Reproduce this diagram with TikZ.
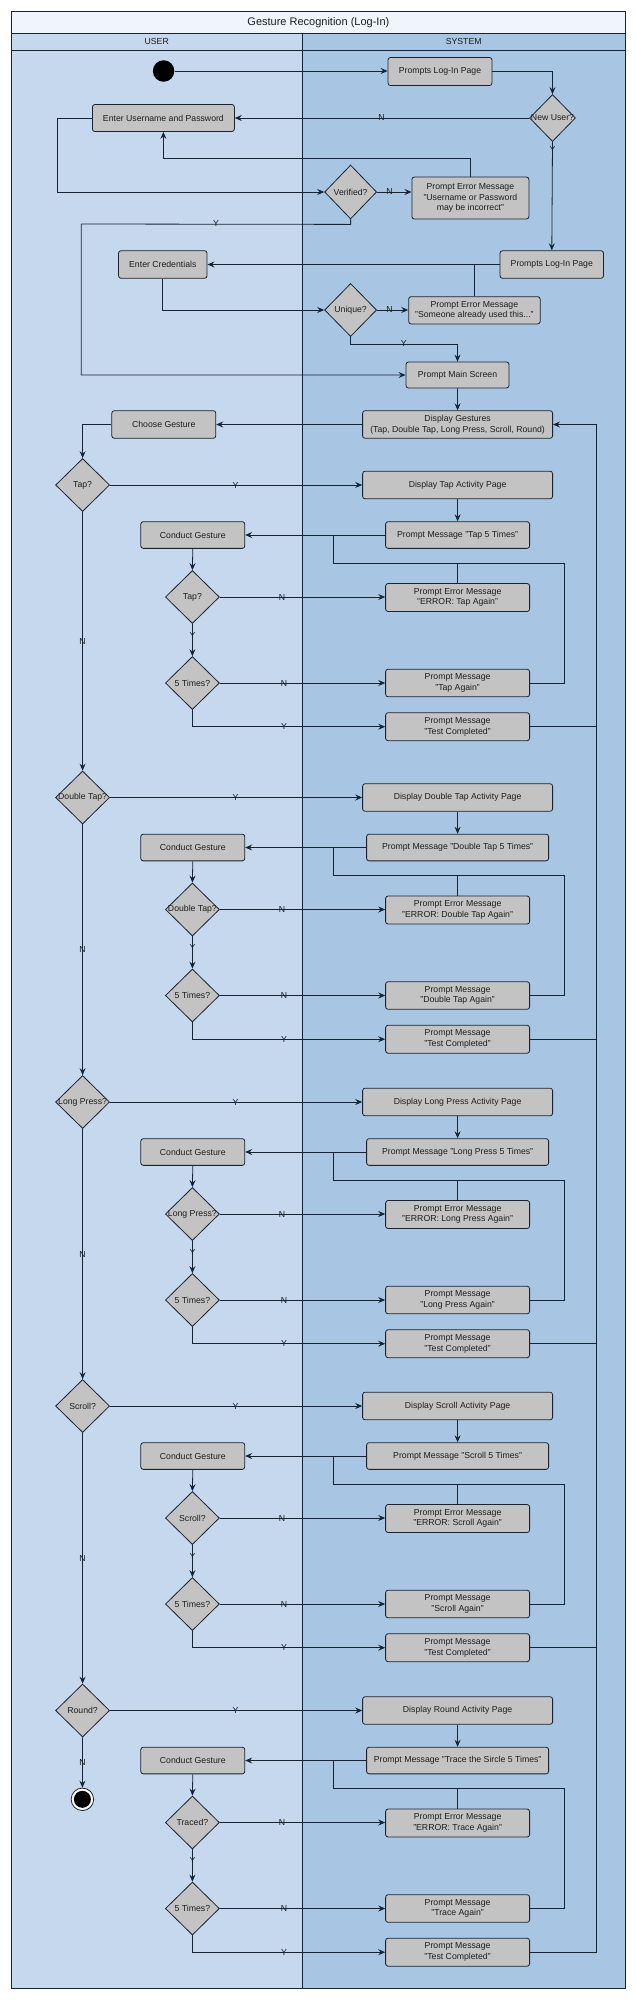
\documentclass[tikz,border=0pt]{standalone}
\usepackage{fontspec}
\setmainfont{Liberation Sans}
\usetikzlibrary{shapes.geometric,arrows.meta,calc}
\definecolor{userlane}{RGB}{197,216,238}
\definecolor{syslane}{RGB}{168,198,227}
\definecolor{titlebg}{RGB}{240,245,252}
\definecolor{boxfill}{RGB}{195,195,195}
\definecolor{linecol}{RGB}{25,35,50}
\definecolor{txtcol}{RGB}{30,30,30}
\newcommand{\fs}{\fontsize{8.7}{10.7}\selectfont}
\tikzset{
 actbox/.style={draw=linecol, fill=boxfill, rounded corners=2.5pt, line width=0.8pt, align=center, inner sep=1pt, font=\fs, text=txtcol},
 dia/.style={draw=linecol, fill=boxfill, diamond, line width=0.8pt, inner sep=0pt, minimum width=54pt, minimum height=53pt, font=\fs, text=txtcol},
 conn/.style={draw=linecol, line width=0.8pt},
 arr/.style={conn, -{Stealth[length=7pt,width=6pt,inset=2.5pt]}},
 lbl/.style={font=\fs, text=txtcol, inner sep=0pt},
}
% #1 id, #2 y0, #3 question, #4 display text, #5 prompt text, #6 prompt width, #7 second question, #8 error text, #9 again text
\newcommand{\gestureblock}[9]{%
 \node[dia] (q#1) at (82.6,#2) {\makebox[0pt]{#3}};
 \node[actbox, minimum width=190pt, minimum height=27.6pt] (disp#1) at (457.6,#2) {#4};
 \node[actbox, minimum width=#6pt, minimum height=26.7pt] (pm#1) at ({457.6},{#2+50}) {#5};
 \node[actbox, minimum width=104pt, minimum height=26.7pt] (cg#1) at ({192.8},{#2+50}) {Conduct Gesture};
 \node[dia] (dd#1) at ({192.4},{#2+112}) {\makebox[0pt]{#7}};
 \node[actbox, minimum width=144pt, minimum height=28pt] (err#1) at ({457.6},{#2+112.5}) {Prompt Error Message\\#8};
 \node[dia] (ft#1) at ({192.4},{#2+198}) {\makebox[0pt]{5 Times?}};
 \node[actbox, minimum width=144pt, minimum height=27.6pt] (ag#1) at ({457.6},{#2+198}) {Prompt Message\\#9};
 \node[actbox, minimum width=144pt, minimum height=28pt] (tc#1) at ({457.6},{#2+241.7}) {Prompt Message\\"Test Completed"};
 \coordinate (lr#1) at ({564.1},{#2+78.3});
 \coordinate (ll#1) at ({333.6},{#2+78.3});
 \coordinate (lj#1) at ({333.6},{#2+50});
 \draw[arr] (q#1.east) -- (disp#1.west);
 \node[lbl] (qy#1) at (235.4,#2) {Y};
 \draw[arr] (disp#1.south) -- (pm#1.north);
 \draw[arr] (pm#1.west) -- (cg#1.east);
 \draw[arr] (cg#1.south) -- (dd#1.north);
 \draw[arr] (dd#1.east) -- (dd#1.east -| err#1.west);
 \node[lbl] (dn#1) at ({282},{#2+112}) {N};
 \draw[arr] (dd#1.south) -- (ft#1.north);
 \node[lbl] (dy#1) at ({192.4},{#2+150}) {Y};
 \draw[arr] (ft#1.east) -- (ft#1.east -| ag#1.west);
 \node[lbl] (fn#1) at ({284},{#2+198}) {N};
 \draw[arr] (ft#1.south) |- (tc#1.west);
 \node[lbl] (fy#1) at ({284},{#2+241.7}) {Y};
 \draw[conn] (err#1.north) -- (err#1.north |- ll#1);
 \draw[conn] (ag#1.east) -| (lr#1) -- (ll#1) -- (lj#1);
}
\begin{document}
\begin{tikzpicture}[x=1pt,y=-1pt]
\useasboundingbox (0,0) rectangle (636,2000);
\fill[white] (0,0) rectangle (636,2000);
% lanes
\fill[userlane] (11.4,33.3) rectangle (302,1988);
\fill[syslane] (302,33.3) rectangle (625.4,1988);
\fill[titlebg] (11.4,11.7) rectangle (625.4,33.3);
\draw[conn] (11.4,11.7) rectangle (625.4,1988);
\draw[conn] (11.4,33.3) -- (625.4,33.3);
\draw[conn] (11.4,50.7) -- (625.4,50.7);
\draw[conn] (302,33.3) -- (302,1988);
\node[font=\fontsize{11}{13}\selectfont, text=txtcol] (title) at (318.4,22.5) {Gesture Recognition (Log-In)};
\node[font=\fontsize{8.7}{10}\selectfont, text=txtcol] (huser) at (156.7,42) {USER};
\node[font=\fontsize{8.7}{10}\selectfont, text=txtcol] (hsys) at (463.7,42) {SYSTEM};

% log-in part
\node[circle, fill=black, minimum size=21.5pt, inner sep=0pt] (start) at (163.6,71) {};
\node[actbox, minimum width=104pt, minimum height=28pt] (pl1) at (440,71.5) {Prompts Log-In Page};
\node[dia, minimum width=46pt, minimum height=47pt] (nu) at (552.5,118) {\makebox[0pt]{New User?}};
\node[actbox, minimum width=142pt, minimum height=27pt] (eup) at (163.4,118) {Enter Username and Password};
\node[dia, minimum width=52pt, minimum height=54pt] (ver) at (350.6,192) {\makebox[0pt]{Verified?}};
\node[actbox, minimum width=117pt, minimum height=42pt] (err0) at (470.4,198) {Prompt Error Message\\"Username or Password\\may be incorrect"};
\node[actbox, minimum width=103.5pt, minimum height=27.6pt] (pl2) at (551.8,264.5) {Prompts Log-In Page};
\node[actbox, minimum width=88.5pt, minimum height=27.6pt] (ec) at (162.8,264.5) {Enter Credentials};
\node[dia, minimum width=52pt, minimum height=53pt] (uni) at (350.6,310) {\makebox[0pt]{Unique?}};
\node[actbox, minimum width=131.5pt, minimum height=27.3pt] (erru) at (474.4,310.3) {Prompt Error Message\\"Someone already used this..."};
\node[actbox, minimum width=103pt, minimum height=26pt] (pms) at (457.5,375) {Prompt Main Screen};
\node[actbox, minimum width=190pt, minimum height=27.6pt] (dg) at (457.6,424.5) {Display Gestures\\(Tap, Double Tap, Long Press, Scroll, Round)};
\node[actbox, minimum width=104pt, minimum height=27.6pt] (cgs) at (163.8,424.5) {Choose Gesture};

\draw[arr] (start.east) -- (start.east -| pl1.west);
\draw[arr] (pl1.east) -| (nu.north);
\draw[arr] (nu.west) -- (eup.east);
\node[lbl] (nuN) at (381.5,118) {N};
\draw[arr] (nu.south) -- (pl2.north);
\node[lbl] (nuY) at (552.5,150) {Y};
\draw[arr] (eup.west) -- (57.6,118) |- (ver.west);
\draw[arr] (ver.east) -- (ver.east -| err0.west);
\node[lbl] (verN) at (389.6,192) {N};
\draw[arr] (err0.north) -- (470.4,158.3) -| (eup.south);
\draw[arr] (ver.south) -- ++(0,5) -- (81.2,224) |- (pms.west);
\node[lbl] (verY) at (216,224) {Y};
\draw[arr] (pl2.west) -- (ec.east);
\draw[conn] (erru.north) -- (erru.north |- pl2.west);
\draw[arr] (ec.south) |- (uni.west);
\draw[arr] (uni.east) -- (uni.east -| erru.west);
\node[lbl] (uniN) at (389.6,310) {N};
\draw[arr] (uni.south) -- ++(0,7.5) -| (pms.north);
\node[lbl] (uniY) at (403.8,344) {Y};
\draw[arr] (pms.south) -- (dg.north);
\draw[arr] (dg.west) -- (cgs.east);

% gesture blocks
\gestureblock{a}{485}{Tap?}{Display Tap Activity Page}{Prompt Message "Tap 5 Times"}{144}{Tap?}{"ERROR: Tap Again"}{"Tap Again"}
\gestureblock{b}{797.5}{Double Tap?}{Display Double Tap Activity Page}{Prompt Message "Double Tap 5 Times"}{182}{Double Tap?}{"ERROR: Double Tap Again"}{"Double Tap Again"}
\gestureblock{c}{1102}{Long Press?}{Display Long Press Activity Page}{Prompt Message "Long Press 5 Times"}{182}{Long Press?}{"ERROR: Long Press Again"}{"Long Press Again"}
\gestureblock{d}{1406}{Scroll?}{Display Scroll Activity Page}{Prompt Message "Scroll 5 Times"}{182}{Scroll?}{"ERROR: Scroll Again"}{"Scroll Again"}
\gestureblock{e}{1710.5}{Round?}{Display Round Activity Page}{Prompt Message "Trace the Sircle 5 Times"}{182}{Traced?}{"ERROR: Trace Again"}{"Trace Again"}

\draw[arr] (cgs.west) -| (qa.north);
\draw[arr] (qa.south) -- node[lbl] (nab) {N} (qb.north);
\draw[arr] (qb.south) -- node[lbl] (nbc) {N} (qc.north);
\draw[arr] (qc.south) -- node[lbl] (ncd) {N} (qd.north);
\draw[arr] (qd.south) -- node[lbl] (nde) {N} (qe.north);

% end
\node[circle, draw=linecol, fill=white, line width=0.8pt, minimum size=22.5pt, inner sep=0pt] (endc) at (82.4,1799.3) {};
\node[circle, fill=black, minimum size=17pt, inner sep=0pt] (endin) at (endc.center) {};
\draw[arr] (qe.south) -- node[lbl] (nend) {N} (endc.north);

% return line
\coordinate (rtop) at (596.6,424.5);
\coordinate (rbot) at (596.6,1952.2);
\draw[arr] (tce.east) -- (rbot) -- (rtop) -- (dg.east);
\draw[conn] (tca.east) -- (tca.east -| rtop);
\draw[conn] (tcb.east) -- (tcb.east -| rtop);
\draw[conn] (tcc.east) -- (tcc.east -| rtop);
\draw[conn] (tcd.east) -- (tcd.east -| rtop);
\end{tikzpicture}
\end{document}
